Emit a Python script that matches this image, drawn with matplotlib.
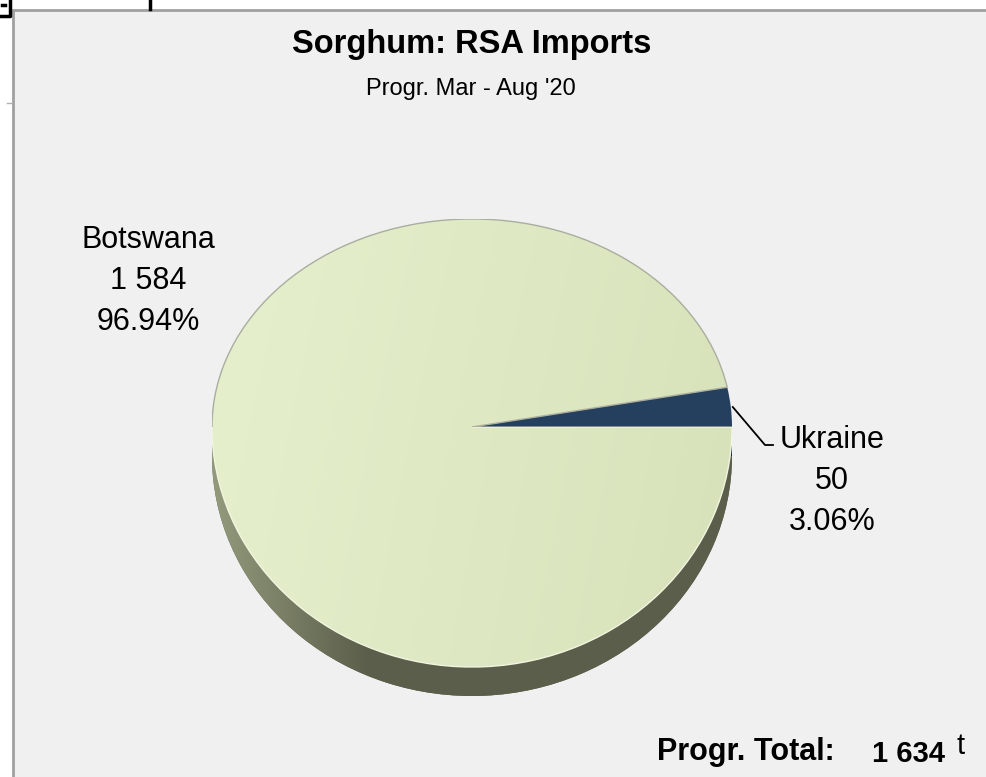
import numpy as np
import matplotlib.pyplot as plt
from matplotlib.colors import to_rgb
from matplotlib.patches import Rectangle

plt.rcParams['font.family'] = ['Liberation Sans', 'DejaVu Sans']

# data
countries = ['Botswana', 'Ukraine']
tons = [1584, 50]
face_colors = ['#dce6c0', '#253f5e']
side_colors = ['#5b5e4a', '#1a2c42']
title = 'Sorghum: RSA Imports'
subtitle = "Progr. Mar - Aug '20"

total = sum(tons)
pct = [100.0 * t / total for t in tons]
start = 360.0 * tons[1] / total      # Ukraine sits just above 3 o'clock

W, H = 986, 777
fig = plt.figure(figsize=(W / 100, H / 100), dpi=100)
fig.patch.set_facecolor('white')

# base axes in pixel coords (y down) for frame and texts
base = fig.add_axes([0, 0, 1, 1])
base.set_xlim(0, W)
base.set_ylim(H, 0)
base.axis('off')
base.add_patch(Rectangle((13, 10), W, H, facecolor='#f0f0f0',
                         edgecolor='#a0a0a0', linewidth=2))
# bits of spreadsheet grid peeking out at the top left
base.plot([0, 10, 10], [16, 16, 0], color='black', lw=2.5)
base.plot([2, 5], [5, 5], color='black', lw=2.5)
base.plot([150, 150], [0, 9], color='black', lw=2.5)
base.plot([7, 12], [103, 103], color='#b0b0b0', lw=1)

# pie geometry (pixels)
cx, cy = 472, 427
rx, ry_top, ry_bot = 260, 208, 240
depth = 29


def px_ax(x0, y0, x1, y1):
    a = fig.add_axes([x0 / W, 1 - y1 / H, (x1 - x0) / W, (y1 - y0) / H])
    a.axis('off')
    a.patch.set_visible(False)
    return a


def face_grad(y0, y1):
    xs = np.linspace(-1, 1, 200)
    ys = np.linspace(y1, y0, 200)
    X, Y = np.meshgrid(xs, ys)
    t = np.clip((X + 1) / 2 * 0.85 + (1 - Y) / 2 * 0.15, 0, 1)
    a, b = np.array(to_rgb('#e6f0cd')), np.array(to_rgb('#d7e1b9'))
    return a + (b - a) * t[..., None]


def side_grad(y0, y1):
    xs = np.linspace(-1, 1, 300)
    t = np.clip((xs + 1) / 0.6, 0, 1)
    a, b = np.array(to_rgb('#939a7c')), np.array(to_rgb(side_colors[0]))
    row = a + (b - a) * t[:, None]
    return np.repeat(row[None, :, :], 20, axis=0)


def fit(a, y0, y1):
    a.set_aspect('auto')
    a.set_xlim(-1, 1)
    a.set_ylim(y0, y1)


# upper half of the face
ax_top = px_ax(cx - rx, cy - ry_top, cx + rx, cy)
w_top, _ = ax_top.pie(tons, colors=face_colors, startangle=start, counterclock=True,
                      wedgeprops=dict(edgecolor='none'))
fit(ax_top, 0, 1)
for w in w_top:
    w.set_clip_on(True)
im = ax_top.imshow(face_grad(0, 1), extent=(-1, 1, 0, 1), aspect='auto', zorder=2)
im.set_clip_path(w_top[0])
w_top[0].set_facecolor('none')
w_top[0].set_edgecolor('#aaae9f')
w_top[0].set_linewidth(1.0)
w_top[0].set_zorder(3)

# lower half of the face plus the side
d = depth / ry_bot
ax_bot = px_ax(cx - rx, cy, cx + rx, cy + ry_bot + depth)
w_side, _ = ax_bot.pie(tons, colors=side_colors, startangle=start,
                       counterclock=True, center=(0, -d),
                       wedgeprops=dict(edgecolor='none'))
w_face, _ = ax_bot.pie(tons, colors=face_colors, startangle=start, counterclock=True,
                       wedgeprops=dict(edgecolor='none'))
fit(ax_bot, -1 - d, 0)
for w in w_side:
    w.set_clip_on(True)
    w.set_zorder(1)
side = ax_bot.imshow(side_grad(-1 - d, 0), extent=(-1, 1, -1 - d, 0),
                     aspect='auto', zorder=1.5)
side.set_clip_path(w_side[0])
for w in w_face:
    w.set_clip_on(True)
    w.set_zorder(2)
im2 = ax_bot.imshow(face_grad(-1, 0), extent=(-1, 1, -1, 0), aspect='auto', zorder=2.5)
im2.set_clip_path(w_face[0])
w_face[0].set_facecolor('none')
w_face[0].set_edgecolor('#f1f6e0')
w_face[0].set_linewidth(1.0)
w_face[0].set_zorder(3)

# titles
base.text(472, 45, title, ha='center', va='center', fontsize=23.5, fontweight='bold')
base.text(471, 89, subtitle, ha='center', va='center', fontsize=17)

# slice labels
lab = [f"{c}\n{t:,}".replace(',', ' ') + f"\n{p:.2f}%" for c, t, p in zip(countries, tons, pct)]
base.text(148, 281, lab[0], ha='center', va='center', fontsize=22, linespacing=1.5)
base.text(832, 481, lab[1], ha='center', va='center', fontsize=22, linespacing=1.48)

# leader line for Ukraine, from the middle of its arc
mid = np.deg2rad(start / 2)
ex, ey = cx + rx * np.cos(mid), cy - ry_top * np.sin(mid)
base.plot([ex + 2, 765, 773], [ey, 445, 445], color='black', lw=1.3)

# total
base.text(835, 752, 'Progr. Total:', ha='right', va='center', fontsize=22, fontweight='bold')
base.text(909, 754, f"{total:,}".replace(',', ' '), ha='center', va='center',
          fontsize=21, fontweight='bold')
base.text(961, 746, 't', ha='center', va='center', fontsize=21)

fig.savefig('out.png', dpi=100, facecolor=fig.get_facecolor())
